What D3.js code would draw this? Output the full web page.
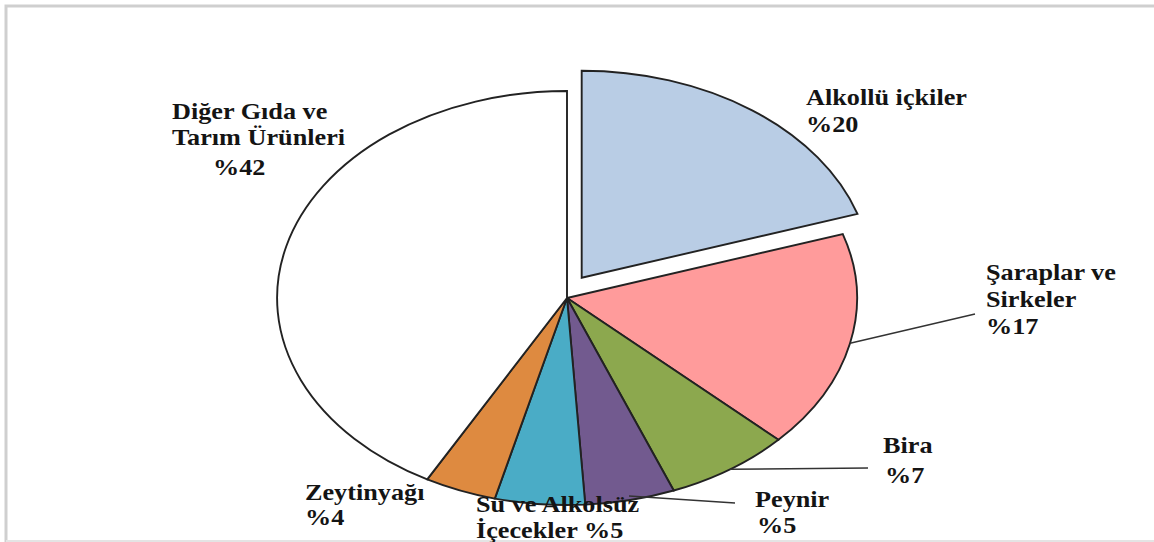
<!DOCTYPE html>
<html lang="tr">
    <head>
        <meta charset="utf-8">
        <style>
            body { margin: 0; background: #fff; }
            .slice { stroke: #222; stroke-width: 1.9; vector-effect: non-scaling-stroke; }
            .label { font-family: "Liberation Serif", "Times New Roman", serif; font-weight: bold; font-size: 23px; fill: #141414; }
            .leader { stroke: #333; stroke-width: 1.5; fill: none; }
        </style>
        <script src="https://d3js.org/d3.v7.min.js"></script>
    </head>
    <body>
        <svg width="1154" height="542"></svg>
        <script>
            // data
            var categories = ["Alkollü içkiler", "Şaraplar ve Sirkeler", "Bira", "Peynir",
                              "Su ve Alkolsüz İçecekler", "Zeytinyağı", "Diğer Gıda ve Tarım Ürünleri"];
            var shares = [20, 17, 7, 5, 5, 4, 42];
            var sliceColors = ["#b9cde5", "#ff9b9b", "#8ca84e", "#725a8f", "#4aacc6", "#de8a40", "#ffffff"];
            var labelLines = [
                ["Alkollü içkiler", "%20"],
                ["Şaraplar ve", "Sirkeler", "%17"],
                ["Bira", "%7"],
                ["Peynir", "%5"],
                ["Su ve Alkolsüz", "İçecekler %5"],
                ["Zeytinyağı", "%4"],
                ["Diğer Gıda ve", "Tarım Ürünleri", "%42"]
            ];

            var svg = d3.select("svg");

            // frame of the original picture
            svg.append("path")
                .attr("d", "M6,542 L6,6 L1154,6")
                .attr("fill", "none")
                .attr("stroke", "#cfcfcf")
                .attr("stroke-width", 3);
            svg.append("line")
                .attr("x1", 6).attr("x2", 1154)
                .attr("y1", 541).attr("y2", 541)
                .attr("stroke", "#e4e4e4").attr("stroke-width", 2);

            var cx = 567, cy = 298, rx = 290, ry = 207;
            var explode = 25;

            var pie = d3.pie().sort(null).value(function(d) { return d; });
            var arcs = pie(shares);
            var arc = d3.arc().innerRadius(0).outerRadius(1);

            var pieG = svg.append("g").attr("transform", "translate(" + cx + "," + cy + ")");

            pieG.selectAll("g.s")
                .data(arcs)
                .enter()
                .append("g")
                  .attr("class", "s")
                  .attr("transform", function(d, i) {
                      var m = (d.startAngle + d.endAngle) / 2;
                      var off = i === 0 ? explode : 0;
                      return "translate(" + (Math.sin(m) * off) + "," + (-Math.cos(m) * off) + ") scale(" + rx + "," + ry + ")";
                  })
                .append("path")
                  .attr("class", "slice")
                  .attr("fill", function(d, i) { return sliceColors[i]; })
                  .attr("d", arc);

            // point on the ellipse for a given angle and radius fraction
            function ell(a, f) {
                return [cx + Math.sin(a) * rx * f, cy - Math.cos(a) * ry * f];
            }

            // leader lines (Şaraplar, Bira, Peynir)
            var leaders = [
                {i: 1, f: 1.0, to: [975, 314], shift: 0},
                {i: 2, f: 1.0, to: [868, 468], shift: 0},
                {i: 3, f: 0.98, to: [735, 503], shift: 0}
            ];
            leaders.forEach(function(l) {
                var d = arcs[l.i];
                var a = (d.startAngle + d.endAngle) / 2 + l.shift;
                var p = ell(a, l.f);
                svg.append("line")
                    .attr("class", "leader")
                    .attr("x1", p[0]).attr("y1", p[1])
                    .attr("x2", l.to[0]).attr("y2", l.to[1]);
            });

            // label placement (left x, first baseline, line step, indent of last line)
            var labelPos = [
                {x: 806, y: 105, dy: 27, last: 0},
                {x: 986, y: 280, dy: 27, last: 0},
                {x: 883, y: 453, dy: 30, last: 2},
                {x: 755, y: 507, dy: 26, last: 2},
                {x: 476, y: 512, dy: 26, last: 0},
                {x: 305, y: 500, dy: 25, last: 0},
                {x: 172, y: 119, dy: 26, last: 41}
            ];
            var sx = 1.14;

            labelLines.forEach(function(lines, i) {
                var p = labelPos[i];
                var t = svg.append("text")
                    .attr("class", "label")
                    .attr("transform", "translate(" + p.x + "," + p.y + ") scale(" + sx + ",1)");
                lines.forEach(function(s, j) {
                    t.append("tspan")
                        .attr("x", (j === lines.length - 1 ? p.last : 0) / sx)
                        .attr("y", j === 2 && i === 6 ? 56 : j * p.dy)
                        .text(s);
                });
            });
        </script>
    </body>
</html>
